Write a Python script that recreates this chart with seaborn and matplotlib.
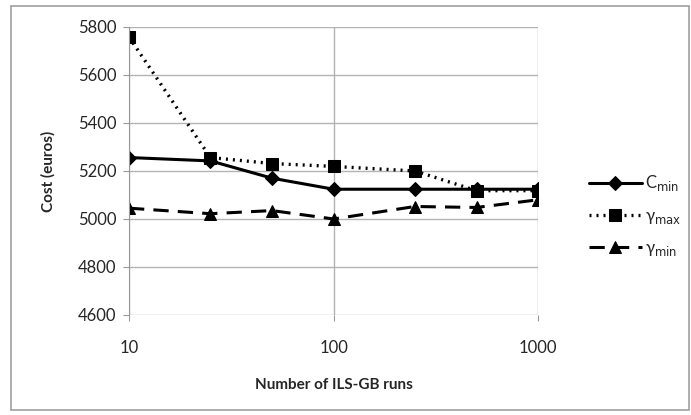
import numpy as np
import pandas as pd
import seaborn as sns
import matplotlib.pyplot as plt
from matplotlib.patches import Rectangle

# Data
runs = [10, 25, 50, 100, 250, 500, 1000]
c_min = [5256, 5242, 5170, 5124, 5124, 5124, 5124]
gamma_max = [5758, 5256, 5231, 5219, 5200, 5118, 5118]
gamma_min = [5045, 5022, 5035, 5000, 5052, 5048, 5080]

y_ticks = [4600, 4800, 5000, 5200, 5400, 5600, 5800]
x_ticks = [10, 100, 1000]

sns.set_style("white")
plt.rcParams['font.family'] = ['Lato', 'DejaVu Sans']

fig = plt.figure(figsize=(6.91, 4.15), dpi=100)
ax = fig.add_axes([0.1867, 0.241, 0.592, 0.694])

# Excel-like chart border
fig.patches.append(Rectangle((0.016, 0.012), 0.981, 0.974, transform=fig.transFigure,
                             fill=False, edgecolor='#a0a0a0', linewidth=1.2))

sns.lineplot(x=runs, y=c_min, ax=ax, color='black', linewidth=2.2, linestyle='-',
             marker='D', markersize=7, markeredgecolor='black', label=r'C$_{\rm min}$')
sns.lineplot(x=runs, y=gamma_max, ax=ax, color='black', linewidth=2.4, linestyle=(0, (0.6, 1.5)),
             marker='s', markersize=9, markeredgecolor='black', label=r'γ$_{\rm max}$')
sns.lineplot(x=runs, y=gamma_min, ax=ax, color='black', linewidth=2.2, linestyle=(0, (5, 3)),
             marker='^', markersize=9, markeredgecolor='black', label=r'γ$_{\rm min}$')

ax.set_xscale('log')
ax.set_xlim(10, 1000)
ax.set_ylim(4600, 5800)
ax.set_yticks(y_ticks)
ax.set_xticks(x_ticks)
ax.set_xticklabels([str(t) for t in x_ticks])
ax.minorticks_off()

ax.grid(True, which='major', color='#b3b3b3', linewidth=1)
ax.set_axisbelow(True)
for side in ['top', 'right', 'bottom']:
    ax.spines[side].set_visible(False)
ax.spines['left'].set_color('#999999')
ax.tick_params(axis='y', length=4, color='#999999', labelsize=12, pad=5, left=True)
ax.tick_params(axis='x', length=4, color='#999999', labelsize=12, pad=14, bottom=True)

ax.set_xlabel('Number of ILS-GB runs', fontsize=11, fontweight='bold', labelpad=16)
ax.set_ylabel('Cost (euros)', fontsize=11, fontweight='bold', labelpad=16)

ax.legend(loc='center left', bbox_to_anchor=(1.087, 0.345), frameon=False, fontsize=12,
          handlelength=3.2, labelspacing=0.85, handletextpad=0.2)

fig.savefig('out.png', dpi=100)
